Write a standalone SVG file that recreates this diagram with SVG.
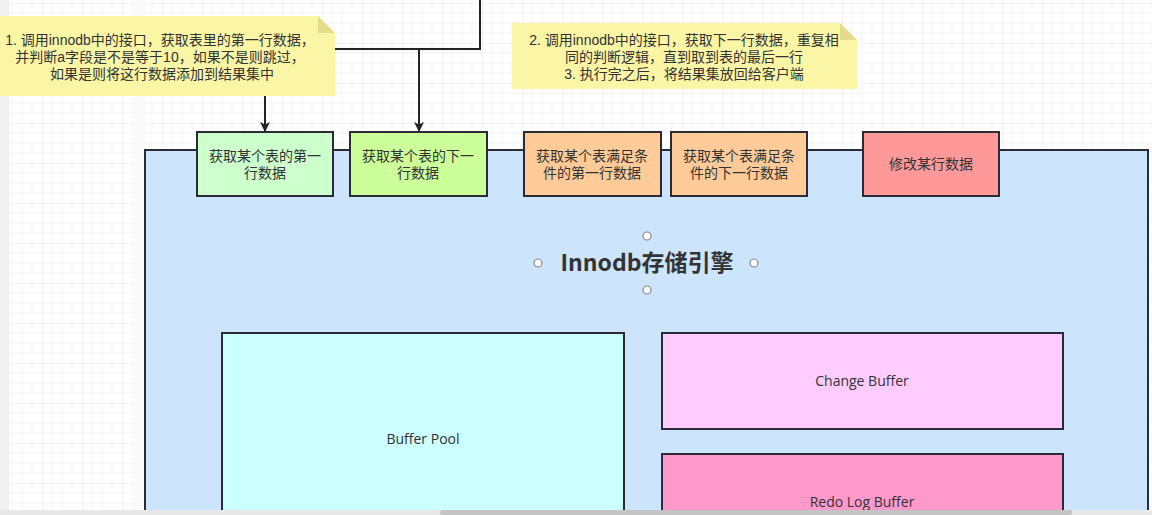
<svg xmlns="http://www.w3.org/2000/svg" width="1152" height="515" viewBox="0 0 1152 515">
<defs>
<pattern id="grid" width="40" height="40" patternUnits="userSpaceOnUse" x="2" y="3">
<rect width="40" height="40" fill="#ffffff"/>
<path d="M10 0V40M20 0V40M30 0V40M0 10H40M0 20H40M0 30H40" stroke="#f3f3f3" stroke-width="1" fill="none"/>
<path d="M0 0V40M0 0H40" stroke="#e6e6e6" stroke-width="1" fill="none"/>
</pattern>
<marker id="arr" markerWidth="10" markerHeight="10" refX="9" refY="5" orient="auto" markerUnits="userSpaceOnUse">
<path d="M0,0 L10,5 L0,10 L2.5,5 Z" fill="#222"/>
</marker>
<style>
.box{stroke:#2b2b35;stroke-width:2}
.cn{font-family:"Liberation Sans","Noto Sans CJK SC",sans-serif;font-size:14px;fill:#333;text-anchor:middle}
.en{font-family:"Open Sans","Noto Sans",sans-serif;font-size:14px;fill:#333;text-anchor:middle}
.note{fill:#fbf6a6}
.fold{fill:#e3dc8c}
.handle{fill:#fff;stroke:#888;stroke-width:1.2}
</style>
</defs>
<rect x="0" y="0" width="1152" height="515" fill="url(#grid)"/>
<rect x="0" y="0" width="9" height="515" fill="#f0f0f0"/>
<rect x="134" y="0" width="11" height="515" fill="#fafafa"/>

<g id="innodb">
<rect x="145" y="150" width="1003" height="420" fill="#cce5fd" class="box"/>
<text x="647" y="271" font-family="'Noto Sans CJK SC','Noto Sans',sans-serif" font-size="23" font-weight="bold" fill="#333" text-anchor="middle">Innodb存储引擎</text>
<circle cx="647" cy="236" r="4" class="handle"/>
<circle cx="538" cy="263" r="4" class="handle"/>
<circle cx="754" cy="263" r="4" class="handle"/>
<circle cx="647" cy="290" r="4" class="handle"/>
</g>

<g id="connectors" fill="none" stroke="#222" stroke-width="2">
<path d="M480,0 V49 H265 V131" marker-end="url(#arr)"/>
<path d="M419,49 V131" marker-end="url(#arr)"/>
</g>

<g id="note1">
<path d="M-2,16 H318 L335,33 V96 H-2 Z" class="note"/>
<path d="M318,16 L335,33 H318 Z" class="fold"/>
<text class="cn" x="160" y="45">1. 调用innodb中的接口，获取表里的第一行数据，</text>
<text class="cn" x="160" y="62">并判断a字段是不是等于10，如果不是则跳过，</text>
<text class="cn" x="162" y="79">如果是则将这行数据添加到结果集中</text>
</g>

<g id="note2">
<path d="M512,23 H840 L857,40 V89 H512 Z" class="note"/>
<path d="M840,23 L857,40 H840 Z" class="fold"/>
<text class="cn" x="684" y="45">2. 调用innodb中的接口，获取下一行数据，重复相</text>
<text class="cn" x="684" y="62">同的判断逻辑，直到取到表的最后一行</text>
<text class="cn" x="684" y="79">3. 执行完之后，将结果集放回给客户端</text>
</g>

<g id="box1">
<rect x="197" y="132" width="136" height="64" fill="#ccffcc" class="box"/>
<text class="cn" x="265" y="161">获取某个表的第一</text>
<text class="cn" x="265" y="178">行数据</text>
</g>
<g id="box2">
<rect x="350" y="132" width="137" height="64" fill="#ccff99" class="box"/>
<text class="cn" x="418" y="161">获取某个表的下一</text>
<text class="cn" x="418" y="178">行数据</text>
</g>
<g id="box3">
<rect x="524" y="132" width="137" height="64" fill="#ffcc99" class="box"/>
<text class="cn" x="592" y="161">获取某个表满足条</text>
<text class="cn" x="592" y="178">件的第一行数据</text>
</g>
<g id="box4">
<rect x="671" y="132" width="136" height="64" fill="#ffcc99" class="box"/>
<text class="cn" x="739" y="161">获取某个表满足条</text>
<text class="cn" x="739" y="178">件的下一行数据</text>
</g>
<g id="box5">
<rect x="863" y="132" width="136" height="64" fill="#ff9999" class="box"/>
<text class="cn" x="931" y="169">修改某行数据</text>
</g>

<g id="bufferpool">
<rect x="222" y="333" width="402" height="240" fill="#ccffff" class="box"/>
<text class="en" x="423" y="444">Buffer Pool</text>
</g>
<g id="changebuffer">
<rect x="662" y="333" width="401" height="96" fill="#ffccff" class="box"/>
<text class="en" x="862" y="386">Change Buffer</text>
</g>
<g id="redolog">
<rect x="662" y="454" width="401" height="120" fill="#ff99cc" class="box"/>
<text class="en" x="862" y="507">Redo Log Buffer</text>
</g>

<rect x="0" y="510" width="1152" height="5" fill="#e8e8e8"/>
<rect x="440" y="510" width="632" height="5" rx="2" fill="#c4c4c4"/>
</svg>
